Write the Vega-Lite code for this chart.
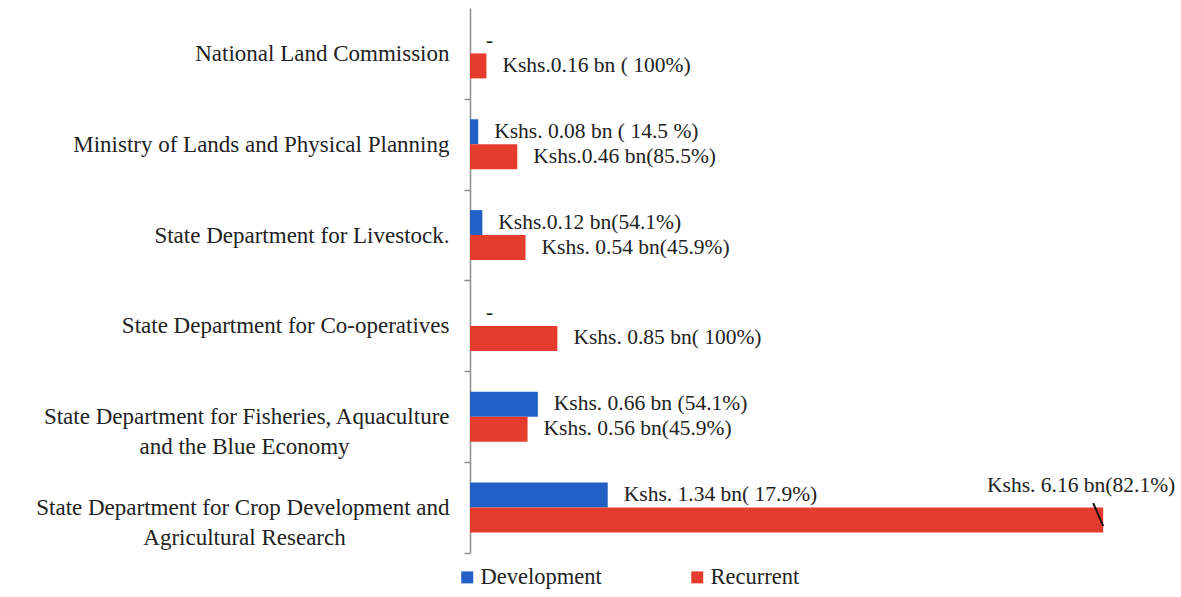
{
  "$schema": "https://vega.github.io/schema/vega-lite/v6.json",
  "autosize": "none",
  "width": 699,
  "height": 545,
  "padding": {"left": 470, "top": 8, "right": 12, "bottom": 44},
  "background": "white",
  "config": {"view": {"stroke": null}, "font": "Liberation Serif"},
  "data": {
    "values": [
      {"Department": "National Land Commission", "Type": "Development", "Amount": 0, "Label": "-"},
      {"Department": "National Land Commission", "Type": "Recurrent", "Amount": 0.16, "Label": "Kshs.0.16 bn ( 100%)"},
      {"Department": "Ministry of Lands and Physical Planning", "Type": "Development", "Amount": 0.08, "Label": "Kshs. 0.08 bn ( 14.5 %)"},
      {"Department": "Ministry of Lands and Physical Planning", "Type": "Recurrent", "Amount": 0.46, "Label": "Kshs.0.46 bn(85.5%)"},
      {"Department": "State Department for Livestock.", "Type": "Development", "Amount": 0.12, "Label": "Kshs.0.12 bn(54.1%)"},
      {"Department": "State Department for Livestock.", "Type": "Recurrent", "Amount": 0.54, "Label": "Kshs. 0.54 bn(45.9%)"},
      {"Department": "State Department for Co-operatives", "Type": "Development", "Amount": 0, "Label": "-"},
      {"Department": "State Department for Co-operatives", "Type": "Recurrent", "Amount": 0.85, "Label": "Kshs. 0.85 bn( 100%)"},
      {"Department": "State Department for Fisheries, Aquaculture and the Blue Economy", "Type": "Development", "Amount": 0.66, "Label": "Kshs. 0.66 bn (54.1%)"},
      {"Department": "State Department for Fisheries, Aquaculture and the Blue Economy", "Type": "Recurrent", "Amount": 0.56, "Label": "Kshs. 0.56 bn(45.9%)"},
      {"Department": "State Department for Crop Development and Agricultural Research", "Type": "Development", "Amount": 1.34, "Label": "Kshs. 1.34 bn( 17.9%)"},
      {"Department": "State Department for Crop Development and Agricultural Research", "Type": "Recurrent", "Amount": 6.16, "Label": "Kshs. 6.16 bn(82.1%)"}
    ]
  },
  "resolve": {"axis": {"y": "independent"}},
  "encoding": {
    "yOffset": {"field": "Type", "type": "nominal", "sort": ["Development", "Recurrent"]},
    "x": {
      "field": "Amount",
      "type": "quantitative",
      "scale": {"domain": [0, 6.8], "nice": false},
      "axis": null
    }
  },
  "layer": [
    {
      "mark": {"type": "bar"},
      "encoding": {
        "y": {
          "field": "Department",
          "type": "nominal",
          "title": null,
          "sort": [
            "National Land Commission",
            "Ministry of Lands and Physical Planning",
            "State Department for Livestock.",
            "State Department for Co-operatives",
            "State Department for Fisheries, Aquaculture and the Blue Economy",
            "State Department for Crop Development and Agricultural Research"
          ],
          "scale": {"paddingInner": 0.45, "paddingOuter": 0.225},
          "axis": {
            "orient": "left",
            "domain": true,
            "domainColor": "#8a8a8a",
            "domainWidth": 1.5,
            "ticks": true,
            "tickColor": "#8a8a8a",
            "tickWidth": 1.5,
            "tickSize": 6,
            "tickOffset": 45.4,
            "labelOffset": -45.4,
            "labelPadding": 15,
            "labelFont": "Liberation Serif",
            "labelFontSize": 23,
            "labelColor": "#222222",
            "labelLimit": 0,
            "labelLineHeight": 30,
            "labelAlign": "right",
            "labelBaseline": "middle",
            "labelExpr": "datum.label == 'State Department for Fisheries, Aquaculture and the Blue Economy' ? ['State Department for Fisheries, Aquaculture', ''] : datum.label == 'State Department for Crop Development and Agricultural Research' ? ['State Department for Crop Development and', ''] : datum.label"
          }
        },
        "color": {
          "field": "Type",
          "type": "nominal",
          "scale": {"domain": ["Development", "Recurrent"], "range": ["#2360C6", "#E63C2D"]},
          "legend": {
            "title": null,
            "orient": "none",
            "legendX": -14,
            "legendY": 558,
            "direction": "horizontal",
            "symbolType": "square",
            "symbolSize": 144,
            "symbolStrokeWidth": 0,
            "labelFont": "Liberation Serif",
            "labelFontSize": 22.5,
            "labelColor": "#222222",
            "columnPadding": 84,
            "labelOffset": 2
          }
        }
      }
    },
    {
      "transform": [{"filter": "datum.Amount < 5"}],
      "mark": {"type": "text", "align": "left", "baseline": "middle", "dx": 16, "font": "Liberation Serif", "fontSize": 21.5, "color": "#222222"},
      "encoding": {
        "y": {
          "field": "Department",
          "type": "nominal",
          "title": null,
          "sort": [
            "National Land Commission",
            "Ministry of Lands and Physical Planning",
            "State Department for Livestock.",
            "State Department for Co-operatives",
            "State Department for Fisheries, Aquaculture and the Blue Economy",
            "State Department for Crop Development and Agricultural Research"
          ],
          "axis": {
            "orient": "left",
            "domain": false,
            "ticks": false,
            "tickSize": 0,
            "labelPadding": 226,
            "labelFont": "Liberation Serif",
            "labelFontSize": 23,
            "labelColor": "#222222",
            "labelLimit": 0,
            "labelLineHeight": 30,
            "labelAlign": "center",
            "labelBaseline": "middle",
            "labelExpr": "datum.label == 'State Department for Fisheries, Aquaculture and the Blue Economy' ? ['', 'and the Blue Economy'] : datum.label == 'State Department for Crop Development and Agricultural Research' ? ['', 'Agricultural Research'] : ''"
          }
        },
        "text": {"field": "Label"}
      }
    },
    {
      "transform": [{"filter": "datum.Amount >= 5"}],
      "mark": {"type": "text", "align": "right", "baseline": "middle", "dx": 72, "dy": -34, "font": "Liberation Serif", "fontSize": 21.5, "color": "#222222"},
      "encoding": {
        "y": {
          "field": "Department",
          "type": "nominal",
          "sort": [
            "National Land Commission",
            "Ministry of Lands and Physical Planning",
            "State Department for Livestock.",
            "State Department for Co-operatives",
            "State Department for Fisheries, Aquaculture and the Blue Economy",
            "State Department for Crop Development and Agricultural Research"
          ],
          "axis": null
        },
        "text": {"field": "Label"}
      }
    },
    {
      "transform": [{"filter": "datum.Amount >= 5"}],
      "mark": {"type": "point", "shape": "M-1,-1.7L0,0.6", "size": 400, "filled": false, "stroke": "#111111", "strokeWidth": 2, "opacity": 1},
      "encoding": {
        "y": {
          "field": "Department",
          "type": "nominal",
          "sort": [
            "National Land Commission",
            "Ministry of Lands and Physical Planning",
            "State Department for Livestock.",
            "State Department for Co-operatives",
            "State Department for Fisheries, Aquaculture and the Blue Economy",
            "State Department for Crop Development and Agricultural Research"
          ],
          "axis": null
        }
      }
    }
  ]
}
